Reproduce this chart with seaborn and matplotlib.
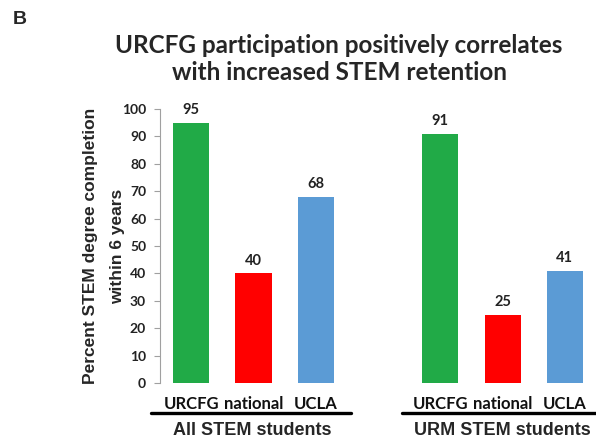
import pandas as pd
import matplotlib
matplotlib.use("Agg")
from matplotlib import pyplot as plt
import seaborn as sns

sns.set_style("white")

# Data
groups = ["All STEM students", "URM STEM students"]
schools = ["URCFG", "national", "UCLA"]
all_stem = [95, 40, 68]
urm_stem = [91, 25, 41]
colors = ["#21AA47", "#FF0000", "#5B9BD5"]

# Build a long table; keep one empty slot between the two groups
keys, values, hues = [], [], []
for g, vals in zip(groups, [all_stem, urm_stem]):
    for s, v in zip(schools, vals):
        keys.append(g + "|" + s)
        values.append(v)
        hues.append(s)
order = keys[:3] + ["gap"] + keys[3:]
df = pd.DataFrame({"key": keys, "value": values, "school": hues})

fig = plt.figure(figsize=(5.96, 4.41), dpi=100)
ax = fig.add_axes([0.2685, 0.1315, 0.7315, 0.6213])

sns.barplot(data=df, x="key", y="value", hue="school", order=order,
            hue_order=schools, palette=colors, dodge=False, width=0.58,
            saturation=1, legend=False, ax=ax, linewidth=0)

ax.set_xlim(-0.5, 6.5)
ax.set_ylim(0, 100)
ax.set_yticks(range(0, 101, 10))

# Value labels above bars
for c in ax.containers:
    ax.bar_label(c, padding=4, fontsize=10.5, fontweight="bold",
                 family="Lato", color="#222222")

# Axes styling
for side in ["top", "right", "bottom"]:
    ax.spines[side].set_visible(False)
ax.spines["left"].set_color("#a0a0a0")
ax.tick_params(axis="y", left=True, length=4, color="#a0a0a0",
               labelsize=10, pad=6)
for lab in ax.get_yticklabels():
    lab.set_fontweight("bold")
    lab.set_family("Lato")
    lab.set_color("#222222")

ax.set_xticks([0, 1, 2, 4, 5, 6])
ax.set_xticklabels(schools + schools, fontsize=12, fontweight="bold",
                   family="Lato", color="#111111")
ax.tick_params(axis="x", bottom=False, pad=6)
ax.set_xlabel("")

ax.set_ylabel("Percent STEM degree completion\nwithin 6 years",
              fontsize=12.5, fontweight="bold", family="Liberation Sans",
              linespacing=1.95, labelpad=-2)

# Group underlines and group names
tr = ax.get_xaxis_transform()
ax.plot([-0.64, 2.57], [-0.109, -0.109], color="black", lw=2.4,
        transform=tr, clip_on=False)
ax.plot([3.38, 6.7], [-0.109, -0.109], color="black", lw=2.4,
        transform=tr, clip_on=False)
for xc, g in zip([0.98, 5.0], groups):
    ax.text(xc, -0.172, g, transform=tr, ha="center", va="center",
            fontsize=13, fontweight="bold", family="Liberation Sans")

fig.text(0.569, 0.866, "URCFG participation positively correlates\nwith increased STEM retention",
         ha="center", va="center", fontsize=17.5, fontweight="bold",
         family="Lato", linespacing=1.2)
fig.text(0.022, 0.955, "B", ha="left", va="center", fontsize=14,
         fontweight="bold", family="Liberation Sans")

fig.savefig("out.png", dpi=100)
